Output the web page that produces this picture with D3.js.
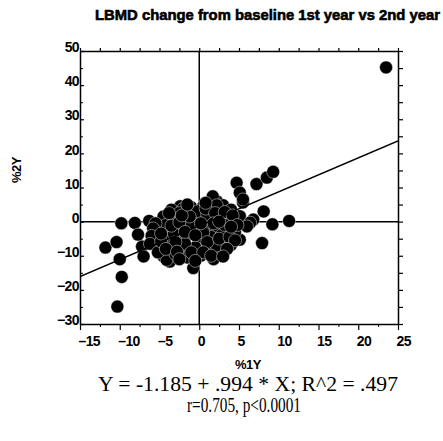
<!DOCTYPE html>
<html>
<head>
<meta charset="utf-8">
<script src="https://cdn.jsdelivr.net/npm/d3@7"></script>
<style>
  body { margin: 0; background: #fff; }
  svg { display: block; }
</style>
</head>
<body>
<div id="chart"></div>
<script>

// x = %1Y, y = %2Y
var pctYear1 = [23.5, -10.3, -9.75, -11.8, -10.4, -10.0, -9.8, -8.1, -6.3, -4.6,
  -7.2, -7.0, -7.7, -5.4, -4.9, -4.5, -3.7, -4.1, -0.75, 4.7,
  7.2, 8.5, 9.3, 8.1, 9.2, 11.3, 7.9, 6.8, 5.5, 5.1,
  5.1, 6.4, 6.0, 5.1, 2.6, -5.8, -2.4, 2.2, 1.7, 5.5,
  -3.5, -2.0, -1.0, 0.5, 1.5, 3.0, 4.0, -4.5, -3.0, -1.5,
  0.0, 1.2, 2.5, 3.8, -5.0, -3.8, -2.2, -0.8, 0.8, 2.0,
  3.5, 4.5, -5.5, -4.0, -2.8, -1.5, 0.0, 1.5, 3.0, 4.0,
  -5.0, -3.5, -2.0, -0.5, 1.0, 2.2, -3.0, -1.5, 0.2, 1.8,
  -2.5, -0.2, 2.2, -1.0, 0.5, -3.2, -1.8, 2.8, -4.2, 1.0,
  -5.5, -5.8, -6.0, -6.2, -5.2, -4.8, -3.5, -2.5, -1.2, 0.8,
  2.0, 3.2, 4.2, 4.8, 3.2, 1.8, 0.2, -1.8, -0.5, 1.0,
  2.5, 3.8, 4.5, -3.0, -4.2, -2.8, -1.0, 0.5, 1.5, 3.5,
  -2.2, -3.8, -1.5, 0.8, -4.8, 2.5, 4.0, -0.5, -2.5, 3.0];
var pctYear2 = [45.2, -24.9, -16.2, -7.6, -6.0, -11.0, -0.5, -0.4, 0.2, -0.8,
  -7.3, -10.2, -3.8, -3.8, -6.3, -10.2, -11.7, -11.2, -13.6, 11.4,
  11.0, 12.9, 14.6, 3.0, -0.8, 0.2, -6.3, 0.6, 5.6, 8.5,
  1.6, -0.3, -1.4, -5.3, -9.2, -5.3, 4.5, 6.0, 7.4, 6.5,
  3.5, 3.8, 4.2, 4.5, 3.2, 4.8, 3.5, 1.5, 1.0, 0.5,
  1.8, 0.8, 1.5, 0.5, -1.5, -2.2, -1.5, -2.5, -1.2, -2.8,
  -2.0, -3.0, -3.0, -4.5, -5.2, -4.0, -5.0, -4.5, -6.0, -6.8,
  -7.5, -7.0, -8.0, -7.5, -8.5, -7.0, -9.5, -10.5, -10.0, -11.0,
  2.5, 3.0, 4.8, -1.0, -3.2, -3.5, -6.5, -4.0, -1.0, 2.0,
  -0.5, -2.0, -4.2, -6.5, -9.0, -5.8, -1.2, -0.2, 1.5, 3.8,
  2.5, 2.8, 1.8, -1.0, -1.0, -0.5, -0.5, -3.0, -4.0, -6.0,
  -5.0, -4.5, -5.5, -6.0, -8.0, -8.8, -9.0, -9.0, -10.0, -8.0,
  1.8, 2.5, 5.0, 5.5, -3.5, 0.0, -1.5, -11.5, -11.0, -10.2];

// fit printed under the plot
var fitIntercept = -1.185, fitSlope = 0.994;

var xTicks = [-15, -10, -5, 0, 5, 10, 15, 20, 25];
var yTicks = [-30, -20, -10, 0, 10, 20, 30, 40, 50];
var xMinorTicks = [-12.5, -7.5, -2.5, 2.5, 7.5, 12.5, 17.5, 22.5];
var yMinorTicks = [-25, -15, -5, 5, 15, 25, 35, 45];

var titleText = "LBMD change from baseline 1st year vs 2nd year";
var xLabel = "%1Y", yLabel = "%2Y";
var fitText = "Y = -1.185 + .994 * X; R^2 = .497";
var corrText = "r=0.705, p<0.0001";

var W = 443, H = 441;
var plot = {left: 80, right: 398, top: 51, bottom: 324};

var svg = d3.select("#chart").append("svg")
    .attr("width", W)
    .attr("height", H);

var x = d3.scaleLinear().domain([-15, 25]).range([plot.left, plot.right]);
var y = d3.scaleLinear().domain([-30, 50]).range([plot.bottom, plot.top]);

var points = d3.range(pctYear1.length).map(i => ({x: pctYear1[i], y: pctYear2[i]}));

svg.append("defs").append("clipPath")
    .attr("id", "plotclip")
  .append("rect")
    .attr("x", plot.left).attr("y", plot.top)
    .attr("width", plot.right - plot.left)
    .attr("height", plot.bottom - plot.top);

// title
svg.append("text")
    .attr("x", 95)
    .attr("y", 20)
    .attr("font-family", "Liberation Sans, Arial, sans-serif")
    .attr("font-weight", "bold")
    .attr("font-size", 15)
    .attr("stroke", "#000")
    .attr("stroke-width", 0.6)
    .attr("textLength", 345)
    .attr("lengthAdjust", "spacingAndGlyphs")
    .text(titleText);

// reference lines at zero
svg.append("line")
    .attr("x1", x(0)).attr("x2", x(0))
    .attr("y1", plot.top).attr("y2", plot.bottom)
    .attr("stroke", "#000").attr("stroke-width", 1.5);
svg.append("line")
    .attr("x1", plot.left).attr("x2", plot.right)
    .attr("y1", y(0)).attr("y2", y(0))
    .attr("stroke", "#000").attr("stroke-width", 1.5);

// points: black dots with a thin white rim, so the crowded middle gets speckled
svg.append("g")
    .attr("clip-path", "url(#plotclip)")
  .selectAll("circle")
  .data(points)
  .enter().append("circle")
    .attr("cx", d => x(d.x))
    .attr("cy", d => y(d.y))
    .attr("r", 6.5)
    .attr("fill", "#000")
    .attr("stroke", "#fff")
    .attr("stroke-width", 0.45);

// regression line
var fitLine = d3.line()
    .x(d => x(d))
    .y(d => y(fitIntercept + fitSlope * d));
svg.append("path")
    .attr("clip-path", "url(#plotclip)")
    .datum(x.domain())
    .attr("d", fitLine)
    .attr("fill", "none")
    .attr("stroke", "#000")
    .attr("stroke-width", 1.5);

function styleAxis(g) {
  g.select(".domain").attr("stroke-width", 1.5);
  g.selectAll(".tick line").attr("stroke-width", 1.2);
  g.selectAll("text")
      .attr("font-family", "Liberation Sans, Arial, sans-serif")
      .attr("font-weight", "bold")
      .attr("font-size", 14)
      .attr("letter-spacing", "-0.6px")
      .attr("fill", "#000");
}

// bottom axis, labels start at the tick
svg.append("g")
    .attr("transform", "translate(0," + plot.bottom + ")")
    .call(d3.axisBottom(x).tickValues(xTicks).tickSize(6).tickSizeOuter(0)
      .tickFormat(d => d < 0 ? "\u2013" + Math.abs(d) : d))
    .call(styleAxis)
  .selectAll("text")
    .attr("text-anchor", "start")
    .attr("x", -2)
    .attr("y", 12.5);
svg.append("g")
    .attr("transform", "translate(0," + plot.bottom + ")")
    .call(d3.axisBottom(x).tickValues(xMinorTicks).tickSize(3).tickFormat(""))
    .call(g => g.select(".domain").remove());

// top axis, small ticks only
svg.append("g")
    .attr("transform", "translate(0," + plot.top + ")")
    .call(d3.axisTop(x).tickValues(xTicks.concat(xMinorTicks)).tickSize(3).tickSizeOuter(0).tickFormat(""))
    .call(styleAxis);

// left axis, ticks inside, labels sit on the tick
svg.append("g")
    .attr("transform", "translate(" + plot.left + ",0)")
    .call(d3.axisLeft(y).tickValues(yTicks).tickSize(-4).tickSizeOuter(0))
    .call(styleAxis)
  .selectAll("text")
    .attr("x", -1)
    .attr("dy", "0.05em");
svg.append("g")
    .attr("transform", "translate(" + plot.left + ",0)")
    .call(d3.axisLeft(y).tickValues(yMinorTicks).tickSize(-3).tickFormat(""))
    .call(g => g.select(".domain").remove());

// right axis, ticks outside
svg.append("g")
    .attr("transform", "translate(" + plot.right + ",0)")
    .call(d3.axisRight(y).tickValues(yTicks.concat(yMinorTicks)).tickSize(5).tickSizeOuter(0).tickFormat(""))
    .call(styleAxis);

// axis titles
svg.append("text")
    .attr("x", 248)
    .attr("y", 369)
    .attr("text-anchor", "middle")
    .attr("font-family", "Liberation Sans, Arial, sans-serif")
    .attr("font-weight", "bold")
    .attr("font-size", 13)
    .attr("letter-spacing", "-0.5px")
    .text(xLabel);

svg.append("text")
    .attr("transform", "translate(21,170) rotate(-90)")
    .attr("text-anchor", "middle")
    .attr("font-family", "Liberation Sans, Arial, sans-serif")
    .attr("font-weight", "bold")
    .attr("font-size", 13)
    .attr("letter-spacing", "-0.5px")
    .text(yLabel);

// fit statistics
svg.append("text")
    .attr("x", 98)
    .attr("y", 391)
    .attr("font-family", "Liberation Serif, Times New Roman, serif")
    .attr("font-size", 21)
    .attr("textLength", 300)
    .attr("lengthAdjust", "spacingAndGlyphs")
    .text(fitText);

svg.append("text")
    .attr("x", 187)
    .attr("y", 412)
    .attr("font-family", "Liberation Serif, Times New Roman, serif")
    .attr("font-size", 20)
    .attr("textLength", 114)
    .attr("lengthAdjust", "spacingAndGlyphs")
    .text(corrText);

</script>
</body>
</html>
